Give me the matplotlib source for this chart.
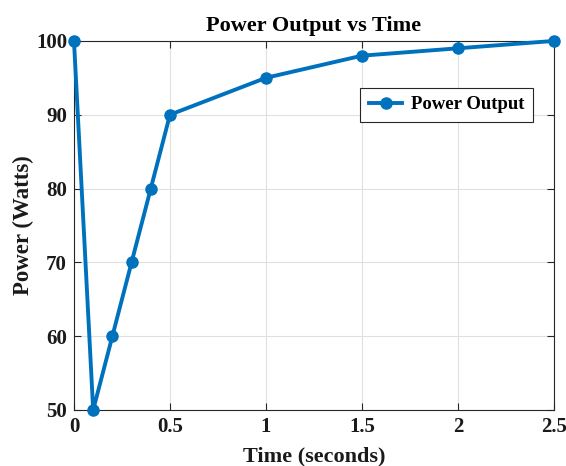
import matplotlib
matplotlib.use('Agg')
import matplotlib.pyplot as plt

# data
time_s = [0, 0.1, 0.2, 0.3, 0.4, 0.5, 1, 1.5, 2, 2.5]
power_w = [100, 50, 60, 70, 80, 90, 95, 98, 99, 100]
x_ticks = [0, 0.5, 1, 1.5, 2, 2.5]
x_tick_labels = ['0', '0.5', '1', '1.5', '2', '2.5']
y_ticks = [50, 60, 70, 80, 90, 100]

plt.rcParams['font.family'] = ['Liberation Serif', 'DejaVu Serif']
plt.rcParams['font.weight'] = 'bold'

fig = plt.figure(figsize=(5.66, 4.66), dpi=100)
ax = fig.add_axes([0.1307, 0.1202, 0.848, 0.792])

ax.plot(time_s, power_w, color='#0072BD', linewidth=2.8, marker='o',
        markersize=8, label='Power Output', clip_on=False, zorder=5)

ax.set_xlim(0, 2.5)
ax.set_ylim(50, 100)
ax.set_xticks(x_ticks)
ax.set_xticklabels(x_tick_labels)
ax.set_yticks(y_ticks)
ax.tick_params(direction='in', length=5, width=0.8, labelsize=15, colors='#262626',
               labelcolor='#1a1a1a', top=True, right=True, pad=5)
for lab in ax.get_xticklabels() + ax.get_yticklabels():
    lab.set_fontweight('bold')
ax.grid(True, color='#e0e0e0', linewidth=0.8)
ax.set_axisbelow(True)
for s in ax.spines.values():
    s.set_color('#262626')
    s.set_linewidth(0.8)

ax.set_xlabel('Time (seconds)', fontsize=16, fontweight='bold', color='#1a1a1a', labelpad=7)
ax.set_ylabel('Power (Watts)', fontsize=16.5, fontweight='bold', color='#1a1a1a', labelpad=1)
ax.set_title('Power Output vs Time', fontsize=16, fontweight='bold', pad=7)

leg = ax.legend(loc='upper right', bbox_to_anchor=(0.956, 0.873), borderaxespad=0,
                fancybox=False, framealpha=1, edgecolor='#262626',
                prop={'weight': 'bold', 'size': 13.5},
                handlelength=1.8, borderpad=0.45, handletextpad=0.45)
leg.get_frame().set_linewidth(0.8)

fig.savefig('out.png', dpi=100)
